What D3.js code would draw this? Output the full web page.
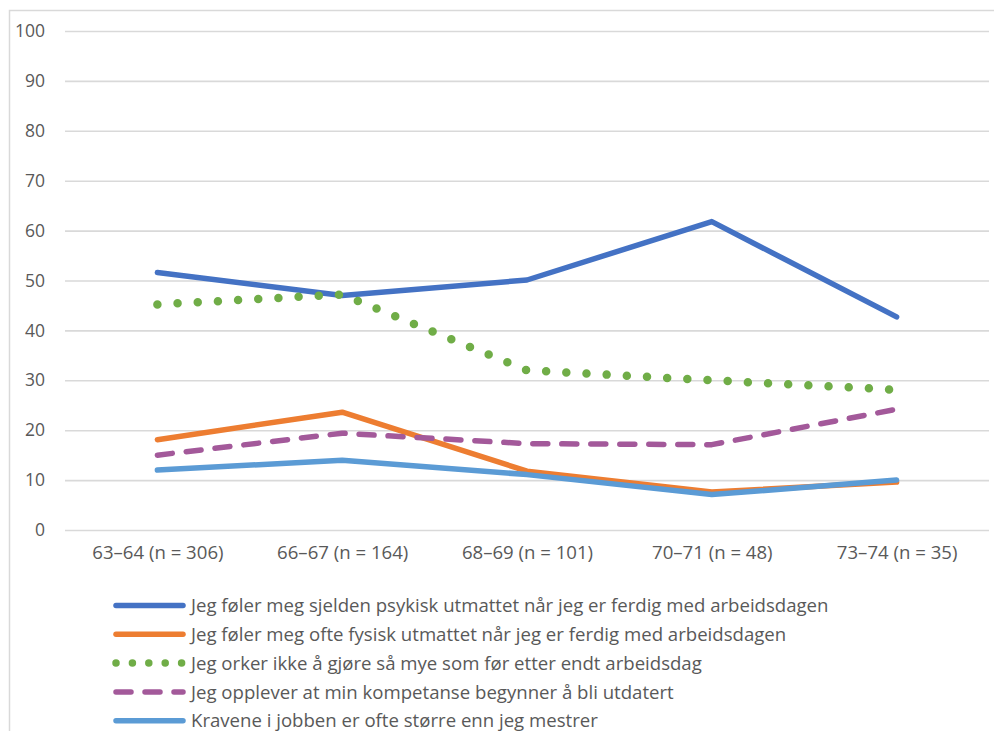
<!DOCTYPE html>
<html lang="no">
<head>
<meta charset="utf-8">
<script src="https://cdn.jsdelivr.net/npm/d3@7"></script>
<style>
  html, body { margin: 0; padding: 0; background: #fff; }
  svg { display: block; font-family: "Open Sans", "Liberation Sans", Arial, sans-serif; }
</style>
</head>
<body>
<svg id="chart" width="994" height="731"></svg>
<script>
// Age groups along the x axis
const categories = ["63–64 (n = 306)", "66–67 (n = 164)", "68–69 (n = 101)", "70–71 (n = 48)", "73–74 (n = 35)"];

// Share of respondents (percent) per statement
const psykiskUtmattet = [51.6, 47.0, 50.1, 61.8, 42.7];
const fysiskUtmattet = [18.1, 23.6, 11.8, 7.6, 9.6];
const orkerIkke = [45.2, 47.2, 32.0, 30.0, 28.1];
const kompetanseUtdatert = [15.0, 19.4, 17.3, 17.1, 24.2];
const kraveneStorre = [12.0, 14.0, 11.1, 7.1, 10.0];

const yTicks = [0, 10, 20, 30, 40, 50, 60, 70, 80, 90, 100];

const seriesNames = [
  "Jeg føler meg sjelden psykisk utmattet når jeg er ferdig med arbeidsdagen",
  "Jeg føler meg ofte fysisk utmattet når jeg er ferdig med arbeidsdagen",
  "Jeg orker ikke å gjøre så mye som før etter endt arbeidsdag",
  "Jeg opplever at min kompetanse begynner å bli utdatert",
  "Kravene i jobben er ofte større enn jeg mestrer"
];
const seriesValues = [psykiskUtmattet, fysiskUtmattet, orkerIkke, kompetanseUtdatert, kraveneStorre];

// Line styling per series
const styles = [
  { color: "#4472C4", dash: null, legendDash: null },
  { color: "#ED7D31", dash: null, legendDash: null },
  { color: "#70AD47", dash: "0 20.2", legendDash: "0 16.4" },
  { color: "#A3599A", dash: "15 14", legendDash: "15 14" },
  { color: "#5B9BD5", dash: null, legendDash: null }
];

const svg = d3.select("#chart");
const textColor = "#595959";
const gridColor = "#D9D9D9";
const fontFamily = "Open Sans, Liberation Sans, Arial, sans-serif";

// Outer chart frame
svg.append("path")
  .attr("d", "M9.5,740 V10.5 H1000")
  .attr("fill", "none")
  .attr("stroke", gridColor)
  .attr("stroke-width", 1.5);

const plot = { left: 65, right: 989, top: 31, bottom: 530 };

const x = d3.scalePoint()
  .domain(categories)
  .range([plot.left, plot.right])
  .padding(0.5);

const y = d3.scaleLinear()
  .domain([0, 100])
  .range([plot.bottom, plot.top]);

// Horizontal gridlines
const grid = svg.append("g")
  .attr("transform", `translate(${plot.left},0)`)
  .call(d3.axisLeft(y).tickValues(yTicks).tickSize(-(plot.right - plot.left)).tickFormat(""));
grid.select(".domain").remove();
grid.selectAll("line").attr("stroke", gridColor).attr("stroke-width", 1.6);

// Y tick labels
const yAxis = svg.append("g")
  .attr("transform", `translate(45,0)`)
  .call(d3.axisLeft(y).tickValues(yTicks).tickSize(0).tickPadding(0));
yAxis.select(".domain").remove();
yAxis.selectAll("text")
  .attr("fill", textColor)
  .attr("font-size", 17.5)
  .attr("font-family", fontFamily);

// X tick labels
const xAxis = svg.append("g")
  .attr("transform", `translate(0,${plot.bottom})`)
  .call(d3.axisBottom(x).tickSize(0).tickPadding(16));
xAxis.select(".domain").remove();
xAxis.selectAll("text")
  .attr("fill", textColor)
  .attr("font-size", 18.6)
  .attr("font-family", fontFamily);

// Series lines
const line = d3.line()
  .x((d, i) => x(categories[i]))
  .y(d => y(d));

seriesValues.forEach((vals, i) => {
  const p = svg.append("path")
    .datum(vals)
    .attr("d", line)
    .attr("fill", "none")
    .attr("stroke", styles[i].color)
    .attr("stroke-width", i === 2 ? 8.5 : 5.5)
    .attr("stroke-linecap", "round")
    .attr("stroke-linejoin", "round");
  if (styles[i].dash) p.attr("stroke-dasharray", styles[i].dash);
});

// Legend
const legend = svg.append("g");
seriesNames.forEach((name, i) => {
  const yy = 605.5 + i * 28.8;
  const l = legend.append("line")
    .attr("x1", 116)
    .attr("x2", i === 2 ? 182.5 : 183)
    .attr("y1", yy)
    .attr("y2", yy)
    .attr("stroke", styles[i].color)
    .attr("stroke-width", i === 2 ? 7.5 : 5.5)
    .attr("stroke-linecap", "round");
  if (styles[i].legendDash) l.attr("stroke-dasharray", styles[i].legendDash);
  legend.append("text")
    .attr("x", 191)
    .attr("y", yy)
    .attr("dy", "0.36em")
    .attr("fill", textColor)
    .attr("font-size", 18.6)
    .attr("font-family", fontFamily)
    .text(name);
});
</script>
</body>
</html>
